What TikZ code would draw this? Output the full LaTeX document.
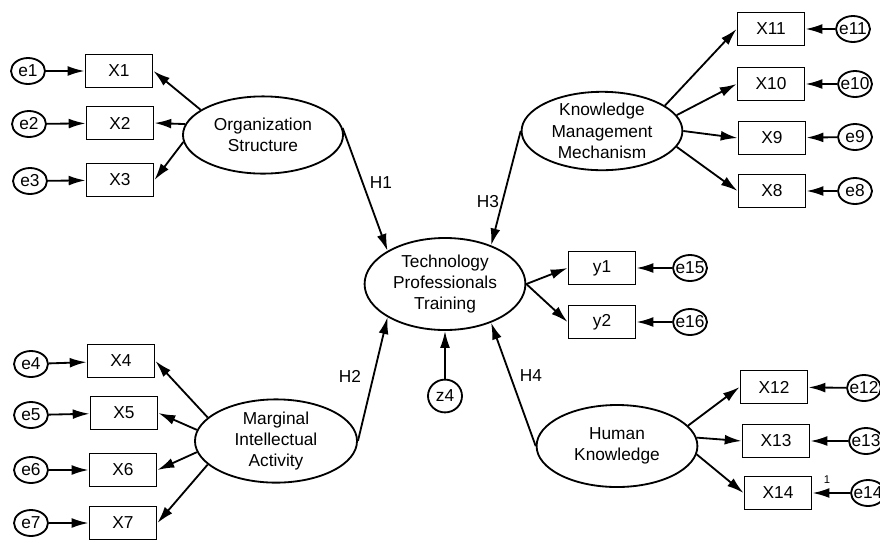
\documentclass[tikz,border=0pt]{standalone}
\usepackage{fontspec}
\setmainfont{Liberation Sans}
\usetikzlibrary{shapes.geometric,arrows.meta}
\newcommand{\semfont}{\fontsize{12.3}{15.2}\selectfont}
\begin{document}
\begin{tikzpicture}[x=0.025cm,y=-0.025cm,font=\semfont,line width=1.3pt,
  >={Latex[length=12pt,width=7pt]},
  latent/.style={ellipse,draw,inner sep=0pt,align=center},
  obs/.style={rectangle,draw,minimum width=1.675cm,minimum height=0.825cm,inner sep=0pt},
  err/.style={ellipse,draw,minimum width=0.85cm,minimum height=0.65cm,inner xsep=-2pt,inner ysep=0pt},
  hyp/.style={inner sep=1pt}]
  \useasboundingbox (0,0) rectangle (880,542);
  % latent variables
  \node[latent,minimum width=4cm,minimum height=1.93cm] (os) at (263,135) {Organization\\Structure};
  \node[latent,minimum width=4.02cm,minimum height=1.93cm] (kmm) at (602,131) {Knowledge\\Management\\Mechanism};
  \node[latent,minimum width=4.02cm,minimum height=2.3cm] (tpt) at (445,284) {Technology\\Professionals\\Training};
  \node[latent,minimum width=4.05cm,minimum height=2.05cm] (mia) at (276,441) {Marginal\\Intellectual\\Activity};
  \node[latent,minimum width=4.02cm,minimum height=2.05cm] (hk) at (617,446) {Human\\Knowledge};
  % observed variables, left
  \node[obs] (x1) at (119,71) {X1};
  \node[obs] (x2) at (120,123) {X2};
  \node[obs] (x3) at (120,180) {X3};
  \node[obs] (x4) at (121,361) {X4};
  \node[obs] (x5) at (124,413) {X5};
  \node[obs] (x6) at (123,470) {X6};
  \node[obs] (x7) at (123,523) {X7};
  % observed variables, right
  \node[obs] (x11) at (771,29) {X11};
  \node[obs] (x10) at (771,84) {X10};
  \node[obs] (x9) at (772,138) {X9};
  \node[obs] (x8) at (772,191) {X8};
  \node[obs] (y1) at (602,268) {y1};
  \node[obs] (y2) at (602,322) {y2};
  \node[obs] (x12) at (774,387) {X12};
  \node[obs] (x13) at (776,441) {X13};
  \node[obs] (x14) at (778,493) {X14};
  % error terms
  \node[err] (e1) at (28,71) {e1};
  \node[err] (e2) at (29,124) {e2};
  \node[err] (e3) at (30,181) {e3};
  \node[err] (e4) at (31,364) {e4};
  \node[err] (e5) at (31,415) {e5};
  \node[err] (e6) at (31,470) {e6};
  \node[err] (e7) at (31,523) {e7};
  \node[err] (e11) at (853,29) {e11};
  \node[err] (e10) at (855,84) {e10};
  \node[err] (e9) at (855,137) {e9};
  \node[err] (e8) at (855,191) {e8};
  \node[err] (e15) at (690,268) {e15};
  \node[err] (e16) at (690,322) {e16};
  \node[err] (e12) at (864,388) {e12};
  \node[err] (e13) at (866,441) {e13};
  \node[err] (e14) at (868,493) {e14};
  \node[err,minimum width=0.85cm,minimum height=0.82cm] (z4) at (445,396) {z4};
  % loadings
  \draw[->] (os.158) -- (x1.east);
  \draw[->] (os.172) -- (x2.east);
  \draw[->] (os.185) -- (x3.east);
  \draw[->] (mia.161) -- (x4.east);
  \draw[->] (mia.172) -- (x5.east);
  \draw[->] (mia.188) -- (x6.east);
  \draw[->] (mia.199) -- (x7.east);
  \draw[->] (kmm.22) -- (x11.west);
  \draw[->] (kmm.12) -- (x10.west);
  \draw[->] (kmm.east) -- (x9.west);
  \draw[->] (kmm.348) -- (x8.west);
  \draw[->] (tpt.east) -- (y1.west);
  \draw[->] (tpt.east) -- (y2.west);
  \draw[->] (hk.16) -- (x12.west);
  \draw[->] (hk.6) -- (x13.west);
  \draw[->] (hk.354) -- (x14.west);
  % errors
  \draw[->] (e1) -- (x1);
  \draw[->] (e2) -- (x2);
  \draw[->] (e3) -- (x3);
  \draw[->] (e4) -- (x4);
  \draw[->] (e5) -- (x5);
  \draw[->] (e6) -- (x6);
  \draw[->] (e7) -- (x7);
  \draw[->] (e11) -- (x11);
  \draw[->] (e10) -- (x10);
  \draw[->] (e9) -- (x9);
  \draw[->] (e8) -- (x8);
  \draw[->] (e15) -- (y1);
  \draw[->] (e16) -- (y2);
  \draw[->] (e12) -- (x12);
  \draw[->] (e13) -- (x13);
  \draw[->] (e14) -- (x14);
  \draw[->] (z4) -- (tpt);
  % hypotheses
  \draw[->] (os.5) -- (tpt.150);
  \draw[->] (kmm.west) -- (tpt.40);
  \draw[->] (mia.east) -- (tpt.210);
  \draw[->] (hk.west) -- (tpt.320);
  \node[hyp] (h1) at (381,183) {H1};
  \node[hyp] (h3) at (488,202) {H3};
  \node[hyp] (h2) at (350,376) {H2};
  \node[hyp] (h4) at (531,376) {H4};
  \node[font=\fontsize{8}{9}\selectfont] (one) at (827,480) {1};
\end{tikzpicture}
\end{document}
